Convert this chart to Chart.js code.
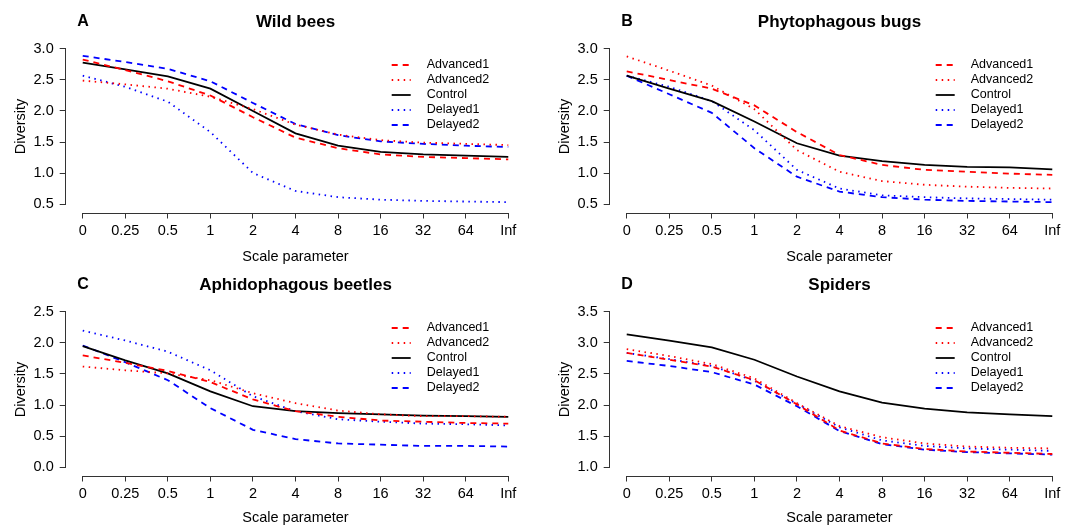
<!DOCTYPE html>
<html>
<head>
<meta charset="utf-8">
<script src="https://cdn.jsdelivr.net/npm/chart.js@4.4.0/dist/chart.umd.min.js"></script>
<style>
    body { margin: 0; background: #fff; }
    #wrap { position: relative; width: 1075px; height: 527px; overflow: hidden; background: #fff; }
    canvas { position: absolute; }
</style>
</head>
<body>
<div id="wrap">
    <canvas id="chartA" width="544" height="268" style="left:0px;top:0px"></canvas>
    <canvas id="chartB" width="531" height="268" style="left:544px;top:0px"></canvas>
    <canvas id="chartC" width="544" height="264" style="left:0px;top:263px"></canvas>
    <canvas id="chartD" width="531" height="264" style="left:544px;top:263px"></canvas>
</div>
<script>
// x axis categories (scale parameter)
const scaleLabels = ['0', '0.25', '0.5', '1', '2', '4', '8', '16', '32', '64', 'Inf'];
const seriesNames = ['Advanced1', 'Advanced2', 'Control', 'Delayed1', 'Delayed2'];

// A - Wild bees
const beesAdvanced1 = [2.83, 2.66, 2.48, 2.25, 1.90, 1.57, 1.40, 1.30, 1.26, 1.24, 1.22];
const beesAdvanced2 = [2.49, 2.43, 2.36, 2.23, 2.03, 1.78, 1.62, 1.53, 1.49, 1.47, 1.45];
const beesControl   = [2.78, 2.67, 2.56, 2.36, 2.00, 1.64, 1.44, 1.34, 1.30, 1.28, 1.26];
const beesDelayed1  = [2.57, 2.39, 2.15, 1.66, 1.00, 0.71, 0.61, 0.57, 0.55, 0.54, 0.53];
const beesDelayed2  = [2.89, 2.79, 2.68, 2.48, 2.13, 1.79, 1.61, 1.51, 1.47, 1.44, 1.42];
const beesTicks = [0.5, 1.0, 1.5, 2.0, 2.5, 3.0];

// B - Phytophagous bugs
const bugsAdvanced1 = [2.64, 2.50, 2.36, 2.09, 1.66, 1.29, 1.13, 1.05, 1.02, 0.99, 0.97];
const bugsAdvanced2 = [2.88, 2.65, 2.41, 2.03, 1.37, 1.02, 0.87, 0.81, 0.78, 0.76, 0.75];
const bugsControl   = [2.57, 2.36, 2.16, 1.83, 1.48, 1.28, 1.19, 1.13, 1.10, 1.09, 1.06];
const bugsDelayed1  = [2.57, 2.39, 2.16, 1.69, 1.05, 0.75, 0.64, 0.61, 0.59, 0.58, 0.57];
const bugsDelayed2  = [2.57, 2.27, 1.97, 1.40, 0.94, 0.70, 0.61, 0.57, 0.55, 0.54, 0.53];
const bugsTicks = [0.5, 1.0, 1.5, 2.0, 2.5, 3.0];

// C - Aphidophagous beetles
const beetlesAdvanced1 = [1.80, 1.68, 1.55, 1.37, 1.09, 0.90, 0.81, 0.75, 0.73, 0.71, 0.70];
const beetlesAdvanced2 = [1.62, 1.56, 1.51, 1.40, 1.19, 1.03, 0.91, 0.85, 0.82, 0.82, 0.81];
const beetlesControl   = [1.95, 1.72, 1.51, 1.22, 0.98, 0.90, 0.87, 0.85, 0.83, 0.82, 0.81];
const beetlesDelayed1  = [2.20, 2.04, 1.86, 1.56, 1.14, 0.90, 0.77, 0.73, 0.70, 0.69, 0.67];
const beetlesDelayed2  = [1.96, 1.69, 1.40, 0.95, 0.60, 0.45, 0.38, 0.36, 0.34, 0.34, 0.33];
const beetlesTicks = [0.0, 0.5, 1.0, 1.5, 2.0, 2.5];

// D - Spiders
const spidersAdvanced1 = [2.84, 2.73, 2.62, 2.40, 2.01, 1.59, 1.38, 1.29, 1.25, 1.23, 1.21];
const spidersAdvanced2 = [2.90, 2.79, 2.66, 2.43, 2.03, 1.66, 1.48, 1.38, 1.33, 1.31, 1.30];
const spidersControl   = [3.14, 3.04, 2.93, 2.73, 2.46, 2.22, 2.04, 1.94, 1.88, 1.85, 1.82];
const spidersDelayed1  = [2.84, 2.74, 2.63, 2.39, 2.02, 1.64, 1.43, 1.34, 1.30, 1.28, 1.26];
const spidersDelayed2  = [2.71, 2.63, 2.53, 2.33, 1.98, 1.58, 1.37, 1.28, 1.24, 1.22, 1.20];
const spidersTicks = [1.0, 1.5, 2.0, 2.5, 3.0, 3.5];

const FONT = "'Liberation Sans', Arial, Helvetica, sans-serif";
const axisColor = '#333';

// line look per treatment
const seriesStyle = {
    Advanced1: { color: '#ff0000', dash: [6, 5] },
    Advanced2: { color: '#ff0000', dash: [1.5, 4.5] },
    Control:   { color: '#000000', dash: [] },
    Delayed1:  { color: '#0000ff', dash: [1.5, 4.5] },
    Delayed2:  { color: '#0000ff', dash: [6, 5] },
};

// R style axes (line only between first and last tick), panel letter and legend
const rStyle = {
    id: 'rStyle',
    afterDraw(chart, args, opts) {
        const ctx = chart.ctx;
        const area = chart.chartArea;
        const xs = chart.scales.x, ys = chart.scales.y;
        ctx.save();
        ctx.strokeStyle = axisColor;
        ctx.lineWidth = 1;
        ctx.setLineDash([]);
        ctx.beginPath();
        const x0 = xs.getPixelForValue(xs.ticks[0].value);
        const x1 = xs.getPixelForValue(xs.ticks[xs.ticks.length - 1].value);
        ctx.moveTo(x0, Math.round(area.bottom) + 0.5);
        ctx.lineTo(x1, Math.round(area.bottom) + 0.5);
        const y0 = ys.getPixelForValue(ys.ticks[0].value);
        const y1 = ys.getPixelForValue(ys.ticks[ys.ticks.length - 1].value);
        ctx.moveTo(Math.round(area.left) - 0.5, y0);
        ctx.lineTo(Math.round(area.left) - 0.5, y1);
        ctx.stroke();

        // panel letter
        ctx.fillStyle = '#000';
        ctx.font = 'bold 16px ' + FONT;
        ctx.textBaseline = 'middle';
        ctx.textAlign = 'left';
        ctx.fillText(opts.letter, area.left + 11.5, 22);

        // legend, top right inside the plot
        ctx.font = '12.5px ' + FONT;
        chart.data.datasets.forEach((ds, i) => {
            const ly = area.top + 24.5 + i * 15;
            ctx.beginPath();
            ctx.strokeStyle = ds.borderColor;
            ctx.lineWidth = ds.borderWidth;
            ctx.setLineDash(ds.borderDash);
            ctx.moveTo(area.right - 133.6, ly);
            ctx.lineTo(area.right - 114.6, ly);
            ctx.stroke();
            ctx.fillStyle = '#000';
            ctx.fillText(ds.label, area.right - 98.6, ly);
        });
        ctx.restore();
    }
};

function makePanel(id, letter, title, series, yTicks, xTitlePad, rightPad) {
    const pad = 0.137;
    const datasets = seriesNames.map((name, i) => ({
        label: name,
        data: series[i].map((v, k) => ({ x: k, y: v })),
        borderColor: seriesStyle[name].color,
        borderDash: seriesStyle[name].dash,
        borderWidth: 1.8,
        pointRadius: 0,
        tension: 0,
        fill: false,
    }));
    const canvas = document.getElementById(id);
    const h = canvas.height;
    return new Chart(canvas.getContext('2d'), {
        type: 'line',
        data: { datasets: datasets },
        plugins: [rStyle],
        options: {
            responsive: false,
            animation: false,
            devicePixelRatio: 1,
            layout: { padding: { left: 0, top: 0, right: rightPad, bottom: 0 } },
            plugins: {
                legend: { display: false },
                tooltip: { enabled: false },
                title: {
                    display: true,
                    text: title,
                    fullSize: false,
                    color: '#000',
                    font: { family: FONT, size: 17, weight: 'bold' },
                    padding: { top: 12, bottom: 8.1 },
                },
                rStyle: { letter: letter },
            },
            scales: {
                x: {
                    type: 'linear',
                    min: -0.4,
                    max: scaleLabels.length - 1 + 0.4,
                    afterBuildTicks: s => { s.ticks = scaleLabels.map((_, k) => ({ value: k })); },
                    afterFit: s => { s.height = h - 212.5; },
                    border: { display: false },
                    grid: { drawOnChartArea: false, drawTicks: true, tickLength: 6, color: axisColor },
                    ticks: {
                        autoSkip: false,
                        maxRotation: 0,
                        padding: 4,
                        color: '#000',
                        font: { family: FONT, size: 14.5 },
                        callback: (v, k) => scaleLabels[k],
                    },
                    title: {
                        display: true,
                        text: 'Scale parameter',
                        color: '#000',
                        font: { family: FONT, size: 14.5 },
                        padding: { top: 0, bottom: xTitlePad },
                    },
                },
                y: {
                    type: 'linear',
                    min: yTicks[0] - pad,
                    max: yTicks[yTicks.length - 1] + pad,
                    afterBuildTicks: s => { s.ticks = yTicks.map(v => ({ value: v })); },
                    afterFit: s => { s.width = 65.7; },
                    border: { display: false },
                    grid: { drawOnChartArea: false, drawTicks: true, tickLength: 6, color: axisColor },
                    ticks: {
                        padding: 6,
                        color: '#000',
                        font: { family: FONT, size: 14.5 },
                        callback: v => v.toFixed(1),
                    },
                    title: {
                        display: true,
                        text: 'Diversity',
                        color: '#000',
                        font: { family: FONT, size: 14.5 },
                        padding: { top: 11.8, bottom: 0 },
                    },
                },
            },
        },
    });
}

makePanel('chartA', 'A', 'Wild bees',
    [beesAdvanced1, beesAdvanced2, beesControl, beesDelayed1, beesDelayed2], beesTicks, 2.3, 18.7);
makePanel('chartB', 'B', 'Phytophagous bugs',
    [bugsAdvanced1, bugsAdvanced2, bugsControl, bugsDelayed1, bugsDelayed2], bugsTicks, 2.3, 5.7);
makePanel('chartC', 'C', 'Aphidophagous beetles',
    [beetlesAdvanced1, beetlesAdvanced2, beetlesControl, beetlesDelayed1, beetlesDelayed2], beetlesTicks, 0, 18.7);
makePanel('chartD', 'D', 'Spiders',
    [spidersAdvanced1, spidersAdvanced2, spidersControl, spidersDelayed1, spidersDelayed2], spidersTicks, 0, 5.7);
</script>
</body>
</html>
